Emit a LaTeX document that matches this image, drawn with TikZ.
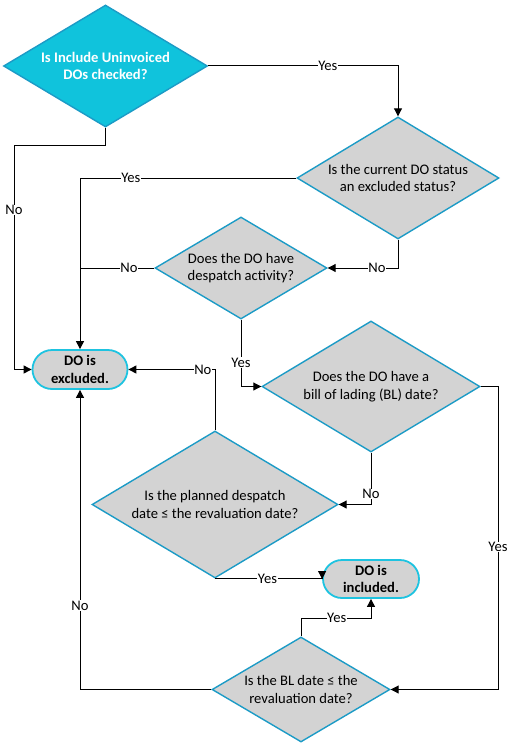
\documentclass[tikz,border=0pt]{standalone}
\usepackage{fontspec}
\setmainfont{Carlito}
\usetikzlibrary{shapes.geometric,shapes.misc,arrows.meta}
\definecolor{dcyan}{HTML}{10C3DC}
\definecolor{dborder}{HTML}{1C9BC6}
\definecolor{tborder}{HTML}{1EC3E0}
\definecolor{dgray}{HTML}{D3D3D3}
\tikzset{
  dec/.style={diamond, shape aspect=1.67, draw=dborder, line width=1.4bp, fill=dgray, inner sep=0pt, align=center,
     font=\fontsize{14.6bp}{17.5bp}\selectfont},
  startdec/.style={dec, fill=dcyan, text=white, font=\fontsize{14.6bp}{17.5bp}\selectfont\bfseries},
  term/.style={rounded rectangle, draw=tborder, line width=1.8bp, fill=dgray, inner sep=0pt, align=center,
     font=\fontsize{14.6bp}{17.5bp}\selectfont\bfseries},
  conn/.style={line width=1bp, black},
  arr/.style={conn, -{Triangle[length=8bp,width=8bp]}},
  lbl/.style={fill=white, inner sep=0.5bp, font=\fontsize{14.6bp}{17.5bp}\selectfont}
}
\begin{document}
\begin{tikzpicture}[x=1bp,y=-1bp]
\useasboundingbox (0,0) rectangle (513,749);
% nodes
\node[startdec, minimum width=204bp, minimum height=122bp] (d1) at (105.5,66) {Is Include Uninvoiced\\DOs checked?};
\node[dec, minimum width=202bp, minimum height=122bp] (d2) at (398,178) {Is the current DO status\\an excluded status?};
\node[dec, minimum width=172bp, minimum height=102bp] (d3) at (241,268) {Does the DO have\\despatch activity?};
\node[dec, minimum width=218bp, minimum height=131bp] (d4) at (371,386.5) {Does the DO have a\\bill of lading (BL) date?};
\node[dec, minimum width=246bp, minimum height=147bp] (d5) at (215,504.5) {Is the planned despatch\\date ≤ the revaluation date?};
\node[dec, minimum width=178bp, minimum height=105bp] (d6) at (301,689.5) {Is the BL date ≤ the\\revaluation date?};
\node[term, minimum width=95bp, minimum height=39bp] (ex) at (80,369.5) {DO is\\excluded.};
\node[term, minimum width=96bp, minimum height=38bp] (inc) at (371,579) {DO is\\included.};
% helper coordinates
\coordinate (c1) at (14,145);
\coordinate (c2) at (498,386);
\coordinate (c3) at (371,618);
% connectors
\draw[arr] (d1.east) -- node[lbl,pos=0.63]{Yes} (d1.east -| d2.north) -- (d2.north);
\draw[arr] (d1.south) -- (d1.south |- c1) -- (c1) -- node[lbl,pos=0.29]{No} (c1 |- ex.west) -- (ex.west);
\draw[arr] (d2.west) -- node[lbl,pos=0.765]{Yes} (d2.west -| ex.north) -- (ex.north);
\draw[arr] (d2.south) |- node[lbl,pos=0.65]{No} (d3.east);
\draw[conn] (d3.west) -- node[lbl,pos=0.34]{No} (d3.west -| ex.north);
\draw[arr] (d3.south) |- node[lbl,pos=0.32]{Yes} (d4.west);
\draw[arr] (d4.east) -- (d4.east -| c2) -- node[lbl,pos=0.53]{Yes} (c2 |- d6.east) -- (d6.east);
\draw[arr] (d4.south) |- node[lbl,pos=0.4]{No} (d5.east);
\draw[arr] (d5.north) |- node[lbl,pos=0.57]{No} (ex.east);
\draw[arr] (d5.south) -- node[lbl,pos=0.49]{Yes} (d5.south -| inc.west) -- (inc.west);
\draw[arr] (d6.north) -- (d6.north |- c3) -- node[lbl,pos=0.51]{Yes} (c3) -- (inc.south);
\draw[arr] (d6.west) -| node[lbl,pos=0.64]{No} (ex.south);
\end{tikzpicture}
\end{document}
